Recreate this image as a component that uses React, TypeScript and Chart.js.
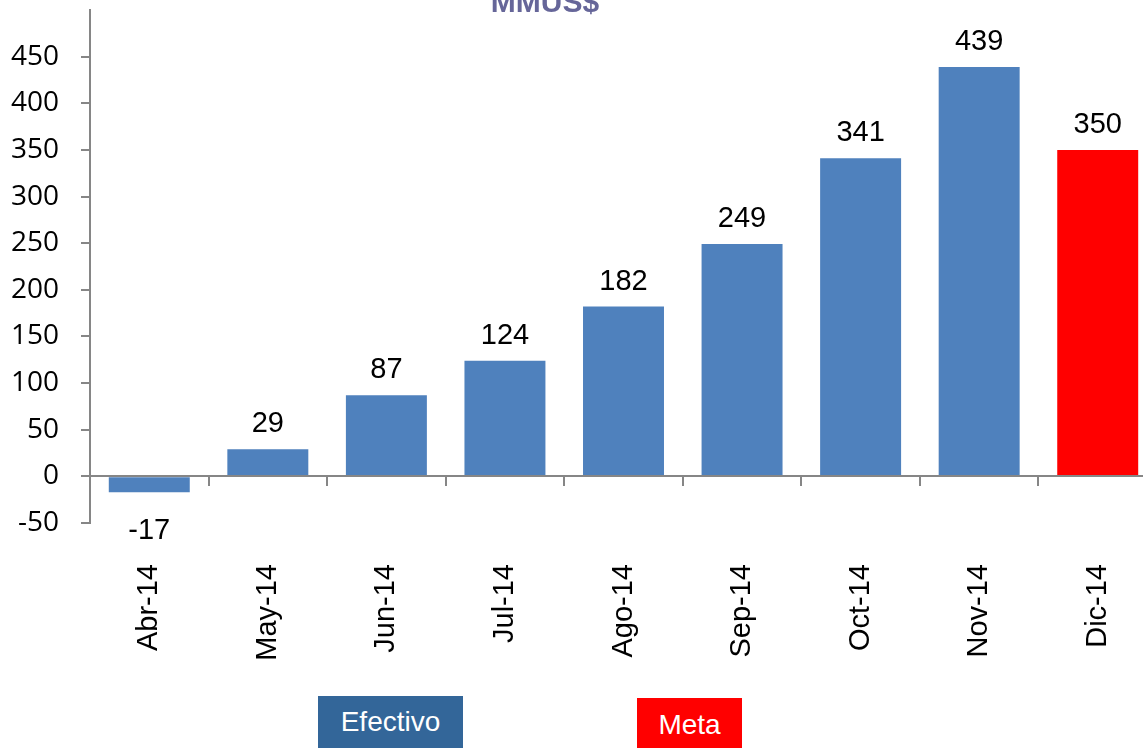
import React, { useEffect, useRef } from "react";
import { Chart, registerables } from "chart.js";

Chart.register(...registerables);

const categories = ["Abr-14", "May-14", "Jun-14", "Jul-14", "Ago-14", "Sep-14", "Oct-14", "Nov-14", "Dic-14"];
const efectivoValues: (number | null)[] = [-17, 29, 87, 124, 182, 249, 341, 439, null];
const metaValues: (number | null)[] = [null, null, null, null, null, null, null, null, 350];
const yMin = -50;
const yMax = 500;
const yStep = 50;
const titleText = "MMUS$";
const legendLabels = ["Efectivo", "Meta"];

const EFECTIVO_COLOR = "#4F81BD";
const META_COLOR = "#FF0000";
const AXIS_COLOR = "#868686";

const titlePlugin = {
  id: "topTitle",
  afterDraw(chart: any) {
    const ctx = chart.ctx;
    ctx.save();
    ctx.font = "bold 30px 'Liberation Sans', Arial, sans-serif";
    ctx.fillStyle = "#666699";
    ctx.textAlign = "center";
    ctx.textBaseline = "alphabetic";
    ctx.fillText(titleText, 545, 12);
    ctx.restore();
  },
};

const zeroLinePlugin = {
  id: "zeroLine",
  afterDatasetsDraw(chart: any) {
    const { ctx, chartArea, scales } = chart;
    const y0 = Math.round(scales.y.getPixelForValue(0));
    ctx.save();
    ctx.strokeStyle = AXIS_COLOR;
    ctx.lineWidth = 2;
    ctx.beginPath();
    ctx.moveTo(chartArea.left, y0);
    ctx.lineTo(chartArea.right, y0);
    for (let i = 0; i < categories.length; i++) {
      const a = scales.x.getPixelForValue(i);
      const b = i + 1 < categories.length ? scales.x.getPixelForValue(i + 1) : a + (a - scales.x.getPixelForValue(i - 1));
      const xb = Math.round((a + b) / 2);
      ctx.moveTo(xb, y0);
      ctx.lineTo(xb, y0 + 10);
    }
    ctx.stroke();
    ctx.restore();
  },
};

const dataLabelPlugin = {
  id: "dataLabels",
  afterDatasetsDraw(chart: any) {
    const ctx = chart.ctx;
    ctx.save();
    ctx.font = "29px 'Liberation Sans', Arial, sans-serif";
    ctx.fillStyle = "#000";
    ctx.textAlign = "center";
    ctx.textBaseline = "alphabetic";
    chart.data.datasets.forEach((ds: any, di: number) => {
      const meta = chart.getDatasetMeta(di);
      meta.data.forEach((el: any, i: number) => {
        const v = ds.data[i];
        if (v === null || v === undefined) return;
        const props = el.getProps(["x", "y", "base"], true);
        if (v >= 0) {
          ctx.fillText(String(v), props.x, props.y - 17);
        } else {
          ctx.fillText(String(v), props.x, props.y + 47);
        }
      });
    });
    ctx.restore();
  },
};

export default function App() {
  const canvasRef = useRef<HTMLCanvasElement | null>(null);

  useEffect(() => {
    if (!canvasRef.current) return;
    const chart = new Chart(canvasRef.current, {
      type: "bar",
      data: {
        labels: categories,
        datasets: [
          {
            label: legendLabels[0],
            data: efectivoValues as any,
            backgroundColor: EFECTIVO_COLOR,
            barPercentage: 0.683,
            categoryPercentage: 1,
          },
          {
            label: legendLabels[1],
            data: metaValues as any,
            backgroundColor: META_COLOR,
            barPercentage: 0.683,
            categoryPercentage: 1,
          },
        ],
      },
      options: {
        responsive: false,
        animation: false,
        layout: { padding: { top: 10, left: 0, right: 0, bottom: 0 } },
        plugins: {
          legend: { display: false },
          title: { display: false },
          tooltip: { enabled: false },
        },
        scales: {
          x: {
            stacked: true,
            grid: { display: false, drawTicks: false },
            border: { display: false },
            ticks: {
              minRotation: 90,
              maxRotation: 90,
              padding: 41,
              color: "#000",
              font: { family: "'Liberation Sans', Arial, sans-serif", size: 29 },
              autoSkip: false,
            },
            afterFit(scale: any) {
              scale.height = 225;
              scale.paddingLeft = 0;
              scale.paddingRight = 0;
            },
          },
          y: {
            stacked: true,
            min: yMin,
            max: yMax,
            grid: {
              drawOnChartArea: false,
              tickLength: 9,
              lineWidth: 2,
              color: (c: any) => (c.tick && c.tick.value === yMax ? "rgba(0,0,0,0)" : AXIS_COLOR),
            },
            border: { color: AXIS_COLOR, width: 2 },
            ticks: {
              stepSize: yStep,
              padding: 22,
              color: "#000",
              font: { family: "'Open Sans', sans-serif", size: 28 },
              callback: (v: any) => (v === yMax ? "" : String(v)),
            },
            afterFit(scale: any) {
              scale.width = 90;
              scale.paddingTop = 0;
              scale.paddingBottom = 0;
            },
          },
        },
      },
      plugins: [zeroLinePlugin, dataLabelPlugin, titlePlugin],
    });
    return () => chart.destroy();
  }, []);

  const boxBase: React.CSSProperties = {
    position: "absolute",
    display: "flex",
    alignItems: "center",
    justifyContent: "center",
    color: "#fff",
    fontFamily: "'Liberation Sans', Arial, sans-serif",
    fontSize: 28,
  };

  return (
    <div
      style={{
        position: "absolute",
        left: 0,
        top: 0,
        width: 1143,
        height: 748,
        overflow: "hidden",
        background: "#fff",
      }}
    >
      <canvas ref={canvasRef} width={1157} height={748} style={{ display: "block" }} />
      <div style={{ ...boxBase, left: 318, top: 696, width: 145, height: 52, background: "#336699" }}>
        {legendLabels[0]}
      </div>
      <div style={{ ...boxBase, left: 637, top: 698, width: 105, height: 50, background: META_COLOR, paddingTop: 4, boxSizing: "border-box" }}>
        {legendLabels[1]}
      </div>
    </div>
  );
}
